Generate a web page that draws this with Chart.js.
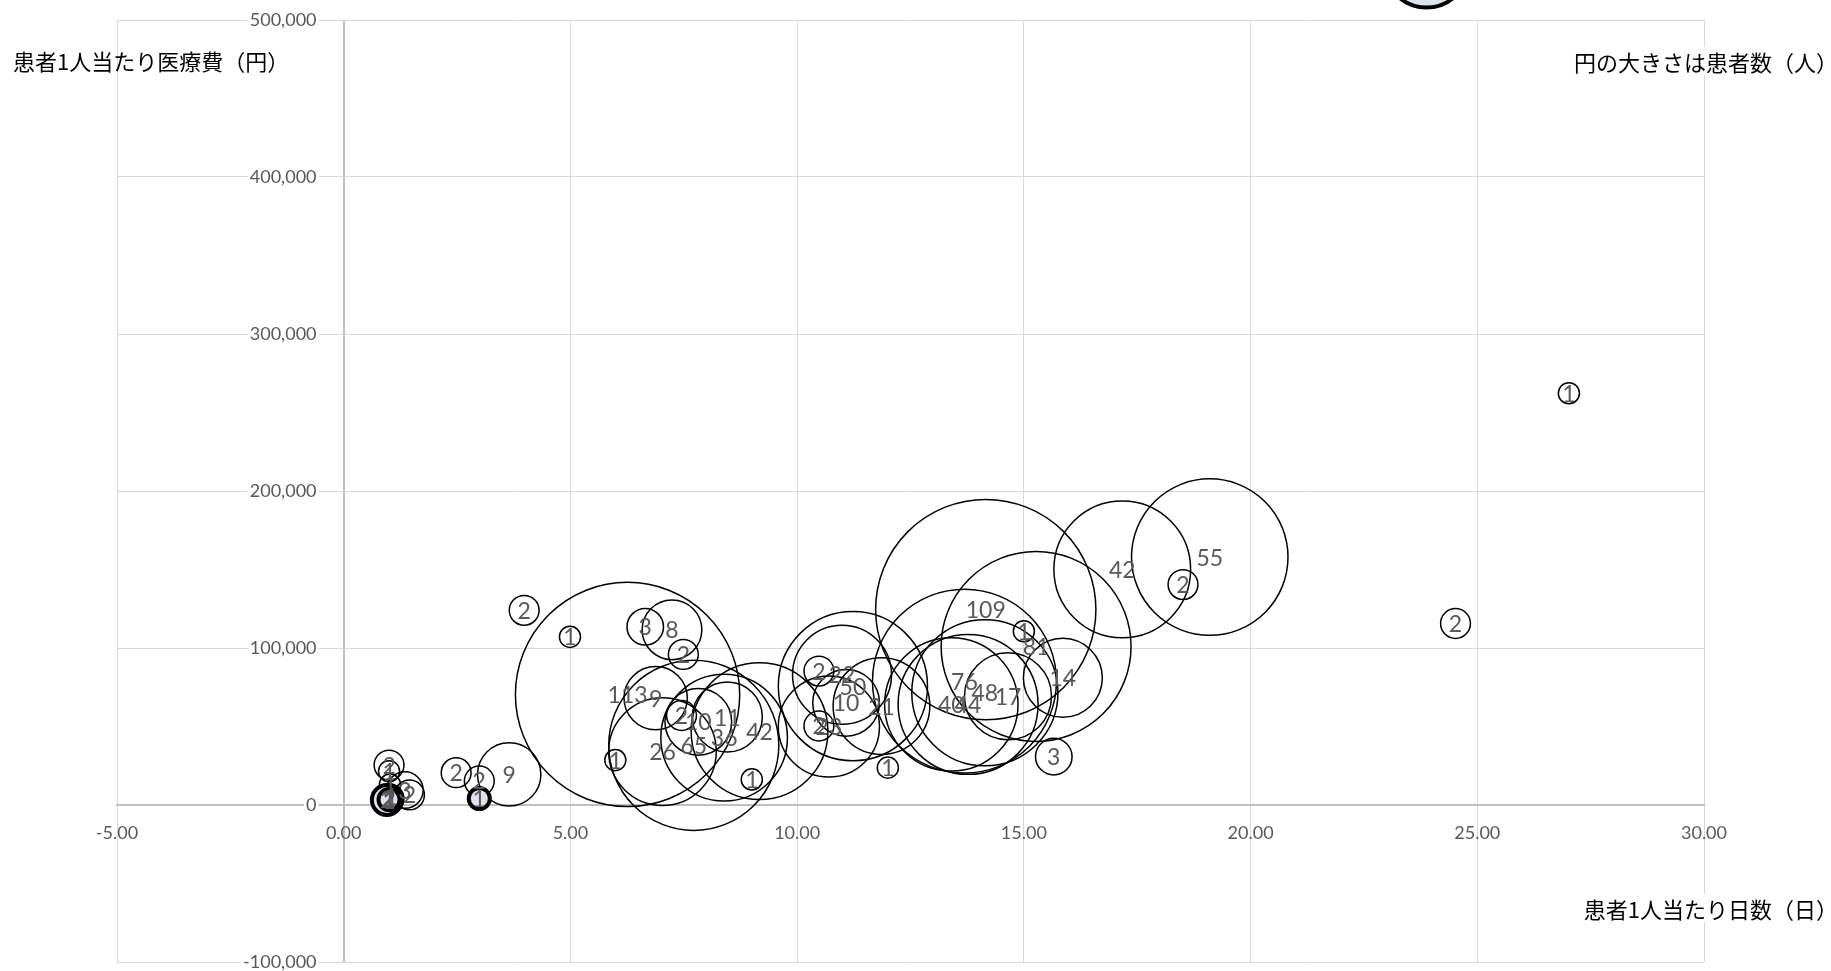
<!DOCTYPE html>
<html><head><meta charset="utf-8">
<script src="https://cdn.jsdelivr.net/npm/chart.js@4.4.1/dist/chart.umd.min.js"></script>
<style>
html,body{margin:0;padding:0;background:#fff;}
#wrap{position:relative;width:1831px;height:971px;overflow:hidden;background:#fff;}
#c{position:absolute;left:0;top:0;}
.lbl{position:absolute;font-family:"Noto Sans CJK JP","Noto Sans CJK SC",sans-serif;font-size:22px;line-height:24px;color:#000;white-space:nowrap;background:#fff;padding:2px 0;}
</style></head>
<body>
<div id="wrap">
<canvas id="c" width="1831" height="971"></canvas>
<div class="lbl" style="left:13px;top:46px;background:transparent">患者1人当たり医療費（円）</div>
<div class="lbl" style="right:-7px;top:47px">円の大きさは患者数（人）</div>
<div class="lbl" style="right:-7px;top:894px">患者1人当たり日数（日）</div>
</div>
<script>
// ---- data ----
const days = [1.00,1.00,1.02,1.35,1.45,1.00,1.00,1.05,2.48,2.99,3.65,3.98,4.99,5.99,6.26,6.65,7.24,7.49,6.88,7.45,7.82,8.46,7.72,8.39,7.03,9.17,9.00,10.48,10.99,11.23,11.08,11.86,10.48,10.70,12.00,13.69,13.40,13.77,14.14,14.65,14.16,15.00,15.27,15.86,15.66,17.17,18.51,19.10,24.52,27.02];
const costs = [25400,21500,13000,9500,6400,4000,3000,5500,20600,15300,19500,124000,107100,28600,70400,113500,111600,95900,68100,57000,53000,56000,38000,42900,34000,47000,16300,85300,83000,75700,65100,63000,50300,50000,23800,78900,64100,64100,71500,69300,124500,110700,101000,81000,30800,150100,140400,157900,115600,262300];
const patients = [2,1,1,3,2,2,1,1,2,2,9,2,1,1,113,3,8,2,9,2,10,11,65,36,26,42,1,2,22,50,10,21,2,23,1,76,40,44,48,17,109,1,81,14,3,42,2,55,2,1];

// highlighted bubbles (bold outline, light fill)
const hiDays = [0.95, 1.00, 2.99, 23.88];
const hiCosts = [3200, 3500, 4100, 534800];
const hiPatients = [2, 1, 1, 16];

const xTicks = [-5,0,5,10,15,20,25,30];
const yTicks = [-100000,0,100000,200000,300000,400000,500000];

const K = 10.55; // bubble radius per sqrt(patient)
function toPoints(xs, ys, ns){ return xs.map((x,i)=>({x:x, y:ys[i], r:K*Math.sqrt(ns[i])})); }

const labelPlugin = {
  id:'bubbleLabels',
  afterDatasetsDraw(chart){
    const ctx = chart.ctx, a = chart.chartArea;
    ctx.save();
    ctx.font = '23px Lato';
    ctx.fillStyle = '#595959';
    ctx.textAlign = 'center';
    ctx.textBaseline = 'middle';
    [1,0].forEach(di=>{
      const ds = chart.data.datasets[di];
      const meta = chart.getDatasetMeta(di);
      meta.data.forEach((el,i)=>{
        if (el.x < a.left || el.x > a.right || el.y < a.top || el.y > a.bottom) return;
        ctx.fillText(String(ds.counts[i]), el.x, el.y + 1);
      });
    });
    ctx.restore();
  }
};

const gridColor = c => (c.tick && c.tick.value === 0) ? '#bfbfbf' : '#d9d9d9';
const gridWidth = c => (c.tick && c.tick.value === 0) ? 2 : 1;

new Chart(document.getElementById('c'), {
  type:'bubble',
  data:{
    datasets:[
      { label:'highlight', data:toPoints(hiDays,hiCosts,hiPatients), counts:hiPatients,
        backgroundColor:'#dde3ec', borderColor:'#000', borderWidth:4, clip:false, hoverRadius:100 },
      { label:'patients', data:toPoints(days,costs,patients), counts:patients,
        backgroundColor:'rgba(0,0,0,0)', borderColor:'#000', borderWidth:1.5 }
    ]
  },
  options:{
    responsive:false, devicePixelRatio:1, animation:false,
    events:[],
    layout:{autoPadding:false, padding:{left:117, right:127, top:20, bottom:9}},
    plugins:{legend:{display:false}, tooltip:{enabled:false}},
    elements:{point:{hoverBorderWidth:0}},
    scales:{
      x:{ type:'linear', position:{y:0}, min:-5, max:30,
          afterBuildTicks: s => { s.ticks = xTicks.map(v=>({value:v})); },
          afterFit: s => { s.paddingLeft = 0; s.paddingRight = 0; s.paddingTop = 0; s.paddingBottom = 0; },
          ticks:{ autoSkip:false, maxRotation:0, color:'#595959', font:{family:'Lato', size:18}, padding:17,
                  callback: v => Number(v).toFixed(2) },
          grid:{ color:gridColor, lineWidth:gridWidth, drawTicks:false },
          border:{ display:true, color:'#bfbfbf', width:2 }
      },
      y:{ type:'linear', position:{x:-0.6}, min:-100000, max:500000,
          afterBuildTicks: s => { s.ticks = yTicks.map(v=>({value:v})); },
          afterFit: s => { s.paddingLeft = 0; s.paddingRight = 0; s.paddingTop = 0; s.paddingBottom = 0; },
          ticks:{ autoSkip:false, color:'#595959', font:{family:'Lato', size:18}, padding:0,
                  showLabelBackdrop:true, backdropColor:'#fff', backdropPadding:{left:2,right:2,top:0,bottom:0},
                  callback: v => Number(v).toLocaleString('en-US') },
          grid:{ color:gridColor, lineWidth:gridWidth, drawTicks:false },
          border:{ display:false }
      }
    }
  },
  plugins:[labelPlugin]
});
</script>
</body></html>
